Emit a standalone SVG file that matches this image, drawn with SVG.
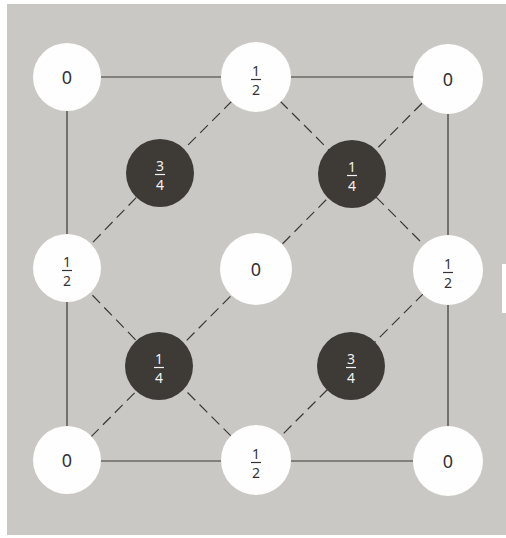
<svg xmlns="http://www.w3.org/2000/svg" width="506" height="538" viewBox="0 0 506 538">
<defs>
<style>
.solid{stroke:#3a3836;stroke-width:1.2;fill:none}
.dash{stroke:#3a3836;stroke-width:1.2;fill:none;stroke-dasharray:11 6}
.w{fill:#fefefe}
.d{fill:#3e3b37}
.t{font-family:"Noto Sans","DejaVu Sans",sans-serif;text-anchor:middle;fill:#333}
.tl{font-family:"Noto Sans","DejaVu Sans",sans-serif;text-anchor:middle;fill:#f2f2f2}
.z{font-size:18px}
.f{font-size:14px}
.bar{stroke:#333;stroke-width:1.2}
.barl{stroke:#f2f2f2;stroke-width:1.2}
</style>
</defs>
<rect x="0" y="0" width="506" height="538" fill="#ffffff"/>
<rect x="7" y="4" width="499" height="531" fill="#cac8c5"/>
<rect x="502" y="264" width="4" height="49" fill="#ffffff"/>
<g id="connectors">
<path class="solid" d="M67 77H448V461H67Z"/>
<path class="dash" d="M256 77L160 173L67 269L160 365L256 461L352 365L448 269L352 173Z"/>
<path class="dash" d="M67 461L448 77"/>
</g>
<g id="n00"><circle class="w" cx="67" cy="77" r="34"/><text class="t z" x="67" y="83.5">0</text></g>
<g id="n01"><circle class="w" cx="256" cy="77" r="35"/><text class="t f" x="256" y="76">1</text><line class="bar" x1="251" y1="79.5" x2="261" y2="79.5"/><text class="t f" x="256" y="95">2</text></g>
<g id="n02"><circle class="w" cx="448" cy="79" r="35"/><text class="t z" x="448" y="85.5">0</text></g>
<g id="d1"><circle class="d" cx="160" cy="173" r="34"/><text class="tl f" x="160" y="171">3</text><line class="barl" x1="155" y1="174.5" x2="165" y2="174.5"/><text class="tl f" x="160" y="190">4</text></g>
<g id="d2"><circle class="d" cx="352" cy="174" r="34"/><text class="tl f" x="352" y="172">1</text><line class="barl" x1="347" y1="175.5" x2="357" y2="175.5"/><text class="tl f" x="352" y="191">4</text></g>
<g id="n10"><circle class="w" cx="67" cy="268" r="34"/><text class="t f" x="67" y="267">1</text><line class="bar" x1="62" y1="270.5" x2="72" y2="270.5"/><text class="t f" x="67" y="286">2</text></g>
<g id="n11"><circle class="w" cx="256" cy="269" r="36"/><text class="t z" x="256" y="275.5">0</text></g>
<g id="n12"><circle class="w" cx="448" cy="270" r="35"/><text class="t f" x="448" y="269">1</text><line class="bar" x1="443" y1="272.5" x2="453" y2="272.5"/><text class="t f" x="448" y="288">2</text></g>
<g id="d3"><circle class="d" cx="159" cy="366" r="34"/><text class="tl f" x="159" y="364">1</text><line class="barl" x1="154" y1="367.5" x2="164" y2="367.5"/><text class="tl f" x="159" y="383">4</text></g>
<g id="d4"><circle class="d" cx="351" cy="366" r="34"/><text class="tl f" x="351" y="364">3</text><line class="barl" x1="346" y1="367.5" x2="356" y2="367.5"/><text class="tl f" x="351" y="383">4</text></g>
<g id="n20"><circle class="w" cx="67" cy="460" r="34"/><text class="t z" x="67" y="466.5">0</text></g>
<g id="n21"><circle class="w" cx="256" cy="460" r="35"/><text class="t f" x="256" y="459">1</text><line class="bar" x1="251" y1="462.5" x2="261" y2="462.5"/><text class="t f" x="256" y="478">2</text></g>
<g id="n22"><circle class="w" cx="448" cy="461" r="35"/><text class="t z" x="448" y="467.5">0</text></g>
</svg>
